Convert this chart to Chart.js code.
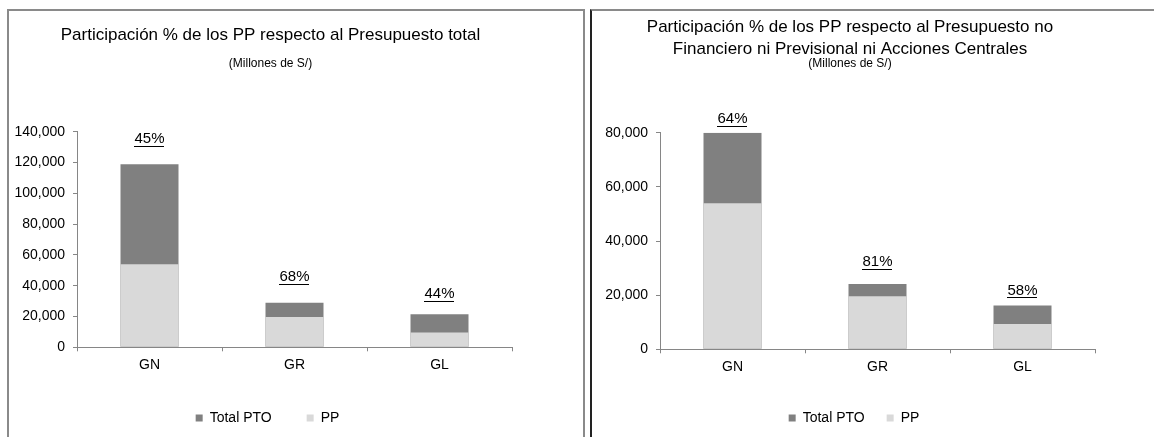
<!DOCTYPE html>
<html><head><meta charset="utf-8">
<script src="https://cdn.jsdelivr.net/npm/chart.js@4"></script>
<style>
html,body{margin:0;padding:0;background:#fff;width:1154px;height:437px;overflow:hidden;}
.panel{position:absolute;box-sizing:border-box;}
#p1{left:7px;top:9px;width:578px;height:440px;border-left:2px solid #8a8a8a;border-top:2px solid #8a8a8a;border-right:2px solid #8a8a8a;}
#p2{left:590px;top:9px;width:570px;height:440px;border-left:2px solid #222;border-top:2px solid #8a8a8a;}
.cv{position:absolute;}
#w1{left:9px;top:12px;width:574px;height:425px;}
#w2{left:593px;top:12px;width:561px;height:425px;}
</style></head><body>
<div class="panel" id="p1"></div><div class="panel" id="p2"></div>
<div class="cv" id="w1"><canvas id="c1" width="574" height="425"></canvas></div>
<div class="cv" id="w2"><canvas id="c2" width="561" height="425"></canvas></div>
<script>
// ---- data ----
const categories = ['GN', 'GR', 'GL'];
const seriesNames = ['Total PTO', 'PP'];

const total1 = [118800, 29000, 21400];
const pp1 = [53900, 19600, 9600];
const pct1 = ['45%', '68%', '44%'];
const yMax1 = 140000;
const yStep1 = 20000;

const total2 = [80000, 24100, 16200];
const pp2 = [53900, 19600, 9300];
const pct2 = ['64%', '81%', '58%'];
const yMax2 = 80000;
const yStep2 = 20000;

const title1 = 'Participación % de los PP respecto al Presupuesto total';
const title2 = ['Participación % de los PP respecto al Presupuesto no', 'Financiero ni Previsional ni Acciones Centrales'];
const subtitleText = '(Millones de S/)';

// ---- styling ----
const FONT = "'Liberation Sans', Arial, Helvetica, sans-serif";
const AXIS = '#868686';
const labelLift1 = [25, 26, 20];
const labelLift2 = [14, 22, 15];

const pctPlugin = {
  id: 'pctLabels',
  afterLayout(chart, args, o) {
    chart.boxes.forEach(b => {
      if (b.axis) return;
      const dx = Array.isArray(b.legendItems) ? o.legendDx : o.titleDx;
      b.left += dx; b.right += dx;
    });
  },
  afterDatasetsDraw(chart, args, o) {
    const meta = chart.getDatasetMeta(1);
    const ctx = chart.ctx;
    ctx.save();
    ctx.font = '15px ' + FONT;
    ctx.fillStyle = '#000';
    ctx.textAlign = 'center';
    ctx.textBaseline = 'middle';
    meta.data.forEach((bar, i) => {
      const t = o.labels[i];
      const x = bar.x, y = bar.y - o.lift[i];
      ctx.fillText(t, x, y);
      const w = ctx.measureText(t).width;
      ctx.fillRect(Math.round(x - w / 2), Math.round(y + 7), Math.round(w), 1);
    });
    ctx.restore();
  }
};

function build(id, c) {
  return new Chart(document.getElementById(id), {
    type: 'bar',
    data: {
      labels: categories,
      datasets: [
        { label: seriesNames[1], data: c.pp, backgroundColor: '#d9d9d9', barPercentage: 0.4, categoryPercentage: 1 },
        { label: seriesNames[0], data: c.total, backgroundColor: '#808080', barPercentage: 0.4, categoryPercentage: 1 }
      ]
    },
    options: {
      responsive: false,
      animation: false,
      devicePixelRatio: 1,
      layout: { padding: { left: 0, right: c.padRight, top: 0, bottom: 2 } },
      plugins: {
        tooltip: { enabled: false },
        title: {
          display: true, text: c.title, color: '#000',
          font: { family: FONT, size: 17, weight: 'normal', lineHeight: c.titleLH },
          padding: c.titlePad
        },
        subtitle: {
          display: true, text: subtitleText, color: '#000',
          font: { family: FONT, size: 12, weight: 'normal', lineHeight: 1.2 },
          padding: c.subPad
        },
        legend: {
          position: 'bottom', reverse: true,
          labels: {
            color: '#000', boxWidth: 7, boxHeight: 7, padding: c.legendGap,
            font: { family: FONT, size: 14 }
          }
        },
        pctLabels: { labels: c.pct, lift: c.lift, titleDx: c.titleDx, legendDx: c.legendDx }
      },
      scales: {
        x: {
          stacked: true,
          afterFit: s => { s.height = c.xHeight; },
          grid: { display: true, drawOnChartArea: false, offset: true, tickLength: 4, color: AXIS },
          border: { color: AXIS, width: 1 },
          ticks: { color: '#000', font: { family: FONT, size: 14 }, padding: 5 }
        },
        y: {
          stacked: false, min: 0, max: c.yMax,
          afterFit: s => { s.width = c.yWidth; },
          grid: { display: true, drawOnChartArea: false, tickLength: 4, color: AXIS },
          border: { color: AXIS, width: 1 },
          ticks: {
            stepSize: c.yStep, color: '#000', padding: 8,
            font: { family: FONT, size: 14 },
            callback: v => Number(v).toLocaleString('en-US')
          }
        }
      }
    },
    plugins: [pctPlugin]
  });
}

build('c1', {
  pp: pp1, total: total1, pct: pct1, yMax: yMax1, yStep: yStep1,
  title: title1, titleLH: 1.2, titlePad: { top: 13, bottom: 0 },
  subPad: { top: 11.4, bottom: 60.5 }, padRight: 71, yWidth: 68,
  xHeight: 28.7, legendGap: 35,
  lift: labelLift1, titleDx: 10, legendDx: 7
});
build('c2', {
  pp: pp2, total: total2, pct: pct2, yMax: yMax2, yStep: yStep2,
  title: title2, titleLH: 1.3, titlePad: { top: 4, bottom: 0 },
  subPad: { top: -4, bottom: 62.1 }, padRight: 59, yWidth: 67,
  xHeight: 39.7, legendGap: 22,
  lift: labelLift2, titleDx: 6, legendDx: 10
});
</script>
</body></html>
